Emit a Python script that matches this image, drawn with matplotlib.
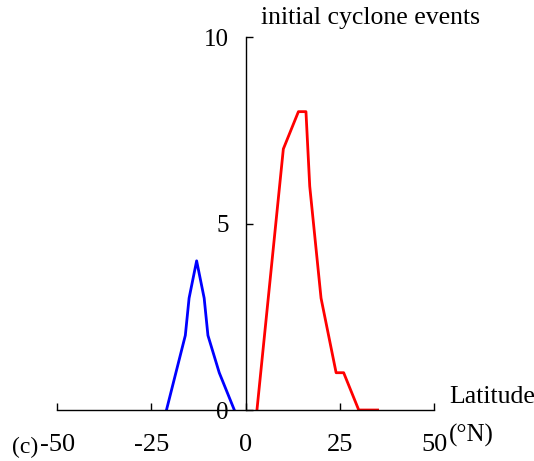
import numpy as np
import matplotlib.pyplot as plt

plt.rcParams['font.family'] = ['Liberation Serif', 'DejaVu Serif']

# southern hemisphere (blue) and northern hemisphere (red) cyclone genesis counts
lat_south = [-21, -18.5, -16, -15, -13, -11, -10, -7, -3]
count_south = [0, 1, 2, 3, 4, 3, 2, 1, 0]
lat_north = [3, 10, 14, 16, 17, 20, 24, 26, 30, 35]
count_north = [0, 7, 8, 8, 6, 3, 1, 1, 0, 0]

xticks = [-50, -25, 0, 25, 50]
yticks = [0, 5, 10]

fig = plt.figure(figsize=(5.34, 4.61), dpi=100)
ax = fig.add_axes([0.107, 0.1106, 0.706, 0.809])

ax.plot(lat_south, count_south, color='blue', lw=2)
ax.plot(lat_north, count_north, color='red', lw=2)

ax.set_xlim(-50, 50)
ax.set_ylim(0, 10)
ax.spines['left'].set_position(('data', 0))
ax.spines['bottom'].set_position(('data', 0))
ax.spines['top'].set_visible(False)
ax.spines['right'].set_visible(False)
for s in ['left', 'bottom']:
    ax.spines[s].set_linewidth(1.0)

ax.set_xticks(xticks)
ax.set_xticklabels([str(t) for t in xticks])
ax.set_yticks(yticks)
ax.tick_params(axis='x', direction='in', length=5, width=1, pad=17, labelsize=19)
ax.tick_params(axis='y', direction='in', length=5, width=1, pad=12, labelsize=18)

ax.text(4, 1.051, 'initial cyclone events', transform=ax.get_xaxis_transform(),
        fontsize=18.5, ha='left', va='center')
ax.text(1.04, 0.035, 'Latitude', transform=ax.transAxes,
        fontsize=18.5, ha='left', va='center')
ax.text(1.04, -0.067, '(°N)', transform=ax.transAxes,
        fontsize=18, ha='left', va='center')
ax.text(-0.12, -0.1, '(c)', transform=ax.transAxes,
        fontsize=17, ha='left', va='center')

plt.savefig('out.png', dpi=100)
